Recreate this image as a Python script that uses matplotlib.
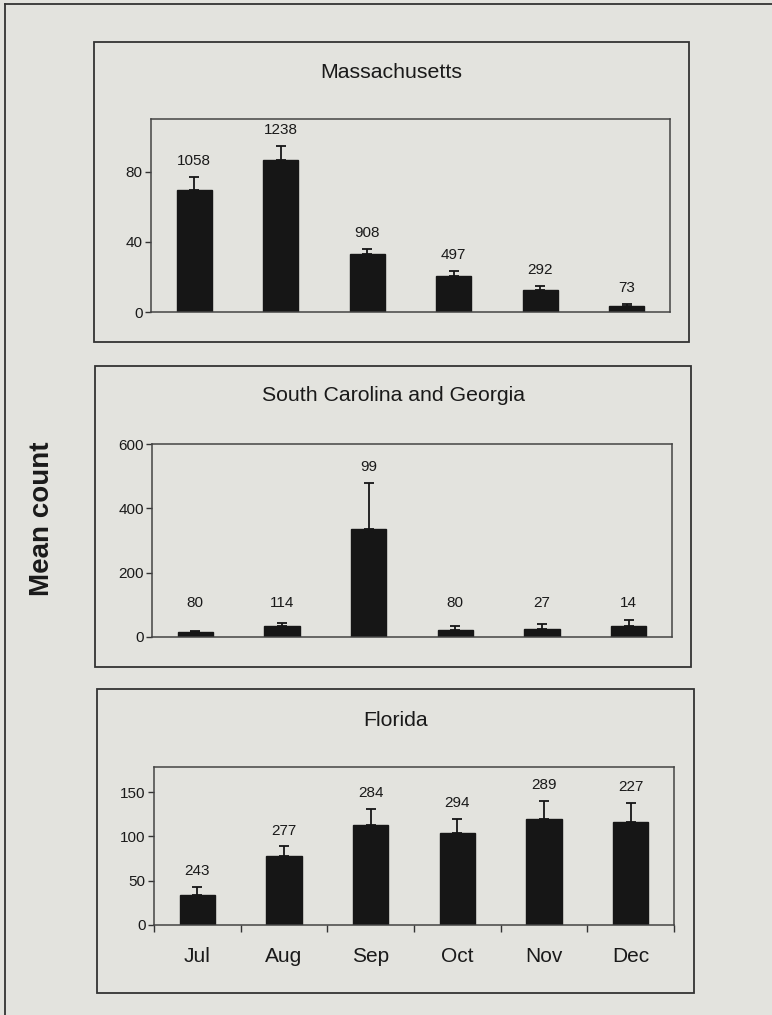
import matplotlib.pyplot as plt
import numpy as np
from matplotlib.patches import Rectangle
from matplotlib.lines import Line2D

plt.rcParams['font.family'] = ['Liberation Sans', 'DejaVu Sans']

months = ['Jul', 'Aug', 'Sep', 'Oct', 'Nov', 'Dec']

ma_mean = [69.5, 86.7, 33.1, 20.8, 12.4, 3.3]
ma_err = [7.6, 8.0, 2.7, 2.6, 2.5, 1.5]
ma_n = [1058, 1238, 908, 497, 292, 73]

scga_mean = [14.5, 33, 336, 22.8, 24.8, 35]
scga_err = [5.2, 10.5, 144, 10.2, 16.2, 17]
scga_n = [80, 114, 99, 80, 27, 14]

fl_mean = [34.2, 77.4, 113, 104, 120.3, 116.1]
fl_err = [8.7, 11.3, 17.8, 15.5, 20.3, 21.4]
fl_n = [243, 277, 284, 294, 289, 227]

W, H = 772, 1015
bg = '#e3e3de'
fig = plt.figure(figsize=(W / 100, H / 100), dpi=100, facecolor=bg)

def px(l, t, r, b):
    return [l / W, 1 - b / H, (r - l) / W, (b - t) / H]

panels = [
    # title, mean, err, n, yticks, ymax, axes px, box px, title y, label floor
    ('Massachusetts', ma_mean, ma_err, ma_n, [0, 40, 80], 110,
     (151, 119, 670, 312), (94, 42, 689, 342), 72, 0),
    ('South Carolina and Georgia', scga_mean, scga_err, scga_n, [0, 200, 400, 600], 600,
     (152, 444, 672, 637), (95, 366, 691, 667), 395, 57),
    ('Florida', fl_mean, fl_err, fl_n, [0, 50, 100, 150], 178.5,
     (154, 767, 674, 925), (97, 689, 694, 993), 720, 0),
]

x = np.arange(len(months))
for i, (title, mean, err, n, yt, ymax, ab, box, ty, floor) in enumerate(panels):
    ax = fig.add_axes(px(*ab))
    ax.set_facecolor(bg)
    ax.bar(x, mean, width=0.41, color='#161616', edgecolor='#161616', zorder=2)
    ax.errorbar(x, mean, yerr=[np.zeros(len(err)), err], fmt='none',
                ecolor='#161616', elinewidth=1.3, capsize=3.8, capthick=1.3, zorder=3)
    tops = np.array(mean) + np.array(err)
    for xi, top, lab in zip(x, tops, n):
        ax.annotate(str(lab), (xi, max(top, floor)), xytext=(0, 11.5),
                    textcoords='offset points', ha='center', va='center',
                    fontsize=11, color='#1a1a1a')
    ax.set_xlim(-0.5, 5.5)
    ax.set_ylim(0, ymax)
    ax.set_yticks(yt)
    ax.tick_params(axis='y', direction='out', length=4, width=1, color='#333',
                   labelsize=11, labelcolor='#1a1a1a', pad=2)
    for s in ax.spines.values():
        s.set_color('#444')
        s.set_linewidth(1.1)
    if i == 2:
        ax.set_xticks(x)
        ax.set_xticklabels(months, fontsize=15, color='#1a1a1a')
        ax.set_xticks(np.arange(-0.5, 6, 1), minor=True)
        ax.tick_params(axis='x', which='major', length=0, pad=16)
        ax.tick_params(axis='x', which='minor', direction='out', length=5,
                       width=1, color='#333')
    else:
        ax.set_xticks([])
    fig.text(((box[0] + box[2]) / 2) / W, 1 - ty / H, title, ha='center',
             va='center', fontsize=15.3, color='#1a1a1a')
    fig.patches.append(Rectangle((box[0] / W, 1 - box[3] / H),
                                 (box[2] - box[0]) / W, (box[3] - box[1]) / H,
                                 transform=fig.transFigure, fill=False,
                                 edgecolor='#333', linewidth=1.3))

fig.text(42 / W, 1 - 519 / H, 'Mean count', rotation=90, ha='center',
         va='center', fontsize=20, fontweight='bold', color='#1a1a1a')

# outer frame (left and top edges only)
fig.lines.append(Line2D([4.5 / W, 4.5 / W], [0, 1 - 4 / H], transform=fig.transFigure,
                        color='#333', linewidth=1.3))
fig.lines.append(Line2D([4.5 / W, 1], [1 - 4 / H, 1 - 4 / H], transform=fig.transFigure,
                        color='#333', linewidth=1.3))

fig.savefig('out.png', dpi=100, facecolor=bg)
